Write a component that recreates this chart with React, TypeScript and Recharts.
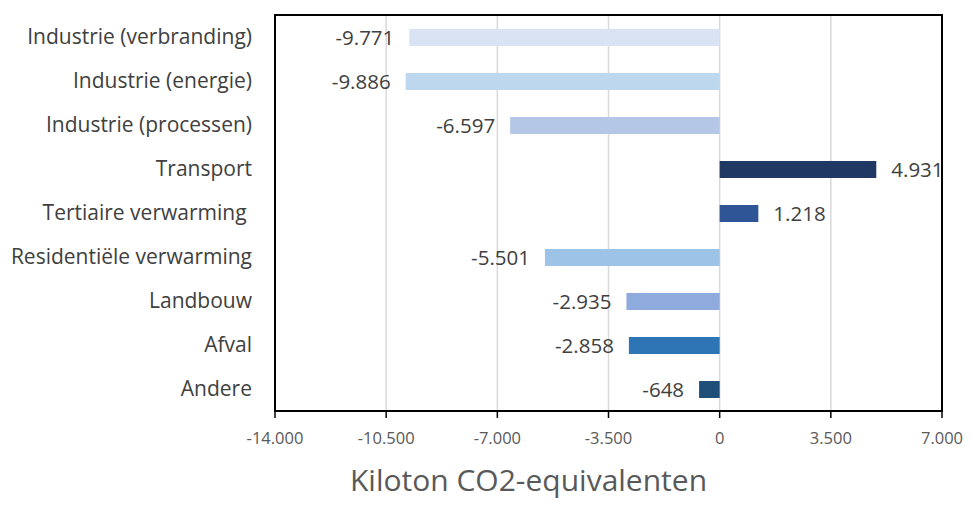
import { Bar, BarChart, CartesianGrid, Cell, LabelList, ReferenceArea, XAxis, YAxis } from 'recharts'

const categories = [
  'Industrie (verbranding)',
  'Industrie (energie)',
  'Industrie (processen)',
  'Transport',
  'Tertiaire verwarming\u00a0',
  'Residentiële verwarming',
  'Landbouw',
  'Afval',
  'Andere',
]
const values = [-9771, -9886, -6597, 4931, 1218, -5501, -2935, -2858, -648]
const colors = ['#DAE3F3', '#BDD7EE', '#B4C7E7', '#203864', '#2F5597', '#9DC3E6', '#8FAADC', '#2E75B6', '#1F4E79']
const xTicks = [-14000, -10500, -7000, -3500, 0, 3500, 7000]

const data = categories.map((cat, i) => ({ cat, value: values[i] }))

const font = '"Open Sans", sans-serif'

function fmt(v: number) {
  const s = Math.abs(Math.round(v))
    .toString()
    .replace(/\B(?=(\d{3})+(?!\d))/g, '.')
  return (v < 0 ? '-' : '') + s
}

function ValueLabel(props: any) {
  const { x, y, width, height, value } = props
  const left = Math.min(x, x + width)
  const right = Math.max(x, x + width)
  const neg = value < 0
  return (
    <text
      x={neg ? left - 15 : right + 15}
      y={y + height / 2}
      dy="0.36em"
      textAnchor={neg ? 'end' : 'start'}
      fontSize={20.5}
      fill="#404040"
      fontFamily={font}
    >
      {fmt(value)}
    </text>
  )
}

export default function App() {
  return (
    <div style={{ position: 'absolute', left: 0, top: 0, background: '#fff' }}>
      <BarChart
        width={971}
        height={507}
        data={data}
        layout="vertical"
        margin={{ top: 15, right: 29, left: 0, bottom: 0 }}
      >
        <CartesianGrid horizontal={false} stroke="#D9D9D9" strokeWidth={1.5} />
        <XAxis
          type="number"
          domain={[-14000, 7000]}
          ticks={xTicks}
          tickFormatter={fmt}
          axisLine={{ stroke: '#000', strokeWidth: 2 }}
          tickLine={{ stroke: '#000', strokeWidth: 1.5 }}
          tickSize={7}
          tickMargin={14}
          height={96}
          tick={{ fill: '#595959', fontSize: 16.5, fontFamily: font }}
          label={{
            value: 'Kiloton CO2-equivalenten',
            position: 'insideBottom',
            offset: 16,
            dx: -80,
            fill: '#595959',
            fontSize: 30,
            fontFamily: font,
          }}
        />
        <YAxis
          type="category"
          dataKey="cat"
          width={275}
          axisLine={{ stroke: '#000', strokeWidth: 2 }}
          tickLine={false}
          tickSize={6}
          tickMargin={17}
          interval={0}
          tick={{ fill: '#404040', fontSize: 21, fontFamily: font }}
        />
        <Bar dataKey="value" barSize={17} isAnimationActive={false}>
          {data.map((d, i) => (
            <Cell key={d.cat} fill={colors[i]} />
          ))}
          <LabelList dataKey="value" content={ValueLabel} />
        </Bar>
        <ReferenceArea x1={-14000} x2={7000} fill="none" stroke="#000" strokeWidth={2} />
      </BarChart>
    </div>
  )
}
